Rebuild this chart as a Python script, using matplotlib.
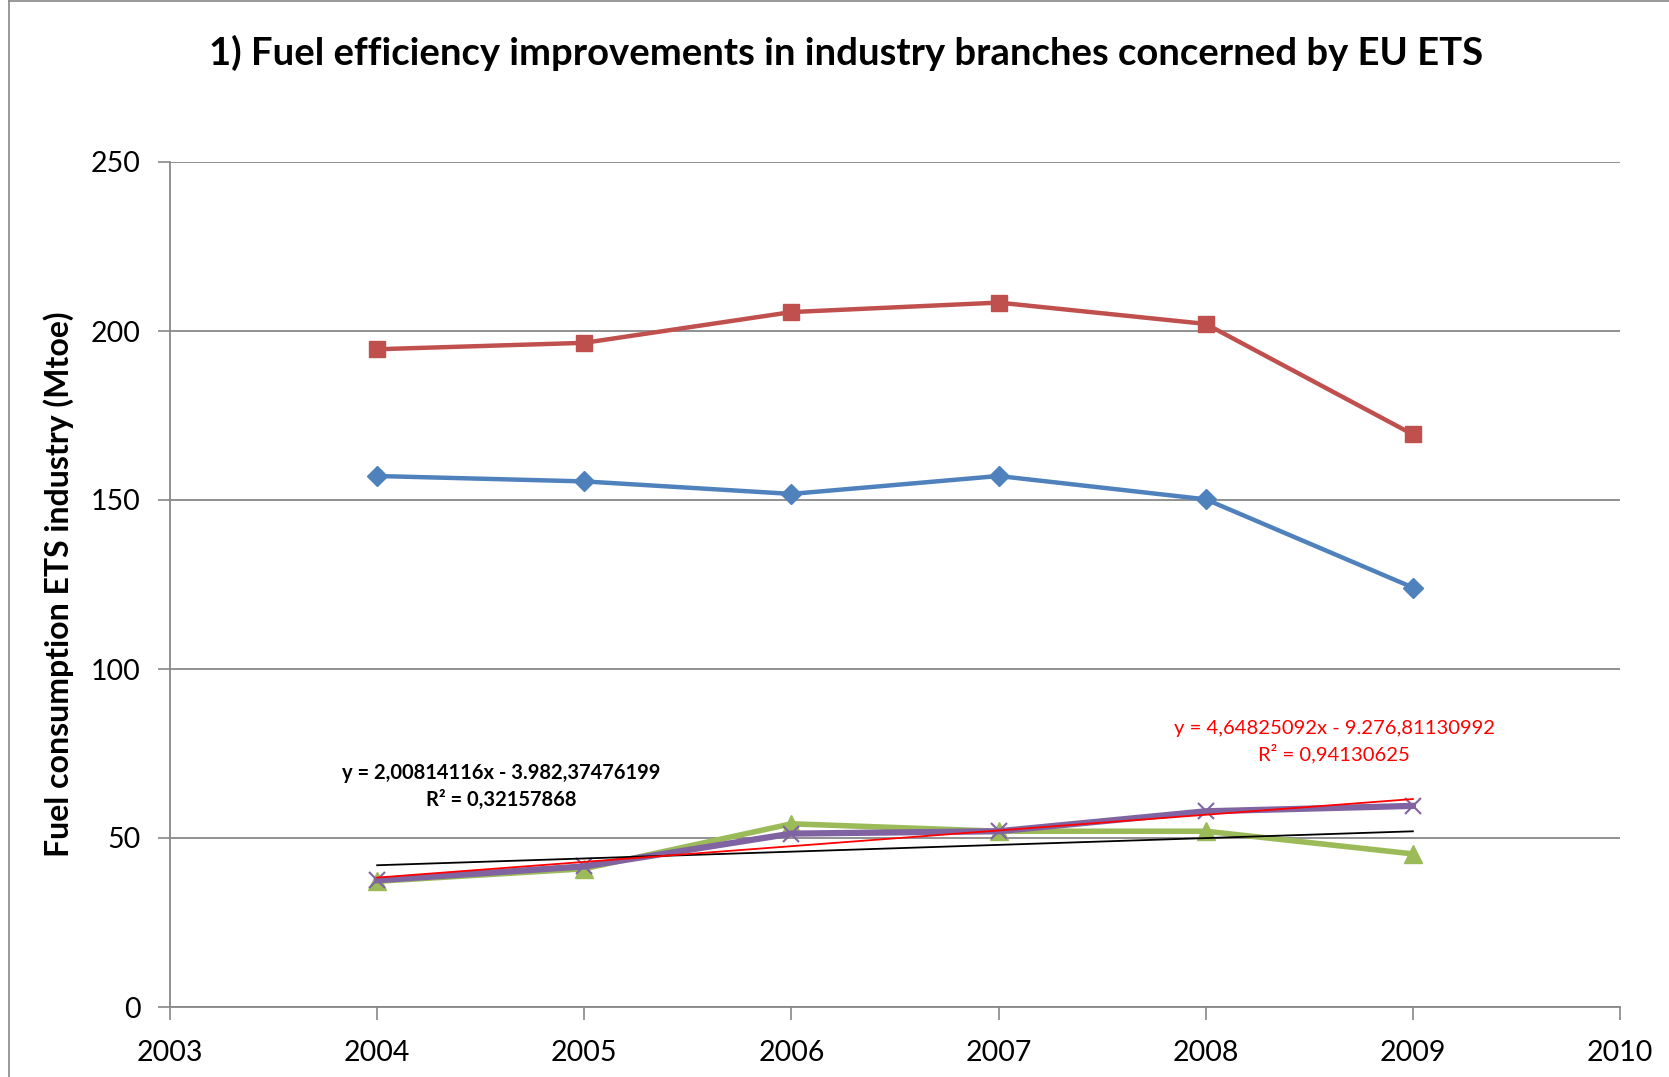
import numpy as np
import matplotlib
matplotlib.use("Agg")
import matplotlib.pyplot as plt
from matplotlib.lines import Line2D

years = [2004, 2005, 2006, 2007, 2008, 2009]
blue_vals = [157.1, 155.5, 151.8, 157.1, 150.2, 124.1]
red_vals = [194.6, 196.5, 205.6, 208.4, 202.1, 169.4]
green_vals = [37.2, 40.9, 54.2, 52.0, 52.0, 45.3]
purple_vals = [37.5, 41.6, 51.3, 52.0, 57.9, 59.5]

# linear trend coefficients (slope, intercept) as printed on the chart
green_trend = (2.00814116, -3982.37476199)
purple_trend = (4.64825092, -9276.81130992)
green_trend_txt = "y = 2,00814116x - 3.982,37476199\nR² = 0,32157868"
purple_trend_txt = "y = 4,64825092x - 9.276,81130992\nR² = 0,94130625"

x_ticks = [2003, 2004, 2005, 2006, 2007, 2008, 2009, 2010]
y_ticks = [0, 50, 100, 150, 200, 250]

plt.rcParams['font.family'] = ['Lato', 'DejaVu Sans']

fig = plt.figure(figsize=(16.69, 10.77), dpi=100)
ax = fig.add_axes([170 / 1669, 1 - 1007 / 1077, 1450 / 1669, 845 / 1077])

ax.plot(years, blue_vals, color='#4F81BD', lw=3.2, marker='D', ms=10,
        mec='#4F81BD', zorder=3)
ax.plot(years, red_vals, color='#C0504D', lw=3.2, marker='s', ms=11,
        mec='#C0504D', zorder=3)
ax.plot(years, green_vals, color='#9BBB59', lw=4, marker='^', ms=13,
        mec='#9BBB59', zorder=3)
ax.plot(years, purple_vals, color='#8064A2', lw=4.5, marker='x', ms=12,
        mew=1.5, mec='#8064A2', zorder=4)

tx = np.array([years[0], years[-1]])
ax.plot(tx, green_trend[0] * tx + green_trend[1], color='black', lw=1.3, zorder=5)
ax.plot(tx, purple_trend[0] * tx + purple_trend[1], color='#FF0000', lw=1.3, zorder=5)

ax.text(2004.6, 65.2, green_trend_txt, ha='center', va='center', fontsize=14.5,
        fontweight='bold', color='black', linespacing=1.4)
ax.text(2008.62, 78.4, purple_trend_txt, ha='center', va='center', fontsize=14.6,
        color='#FF0000', linespacing=1.4)

ax.set_xlim(2003, 2010)
ax.set_ylim(0, 250)
ax.set_xticks(x_ticks)
ax.set_yticks(y_ticks)
ax.tick_params(axis='both', labelsize=20.5, color='#888888', length=9, width=1.2)
ax.tick_params(axis='y', pad=12)
ax.tick_params(axis='x', pad=15)
ax.grid(axis='y', color='#888888', lw=1.3)
ax.set_axisbelow(True)
for s in ['top', 'right']:
    ax.spines[s].set_visible(False)
for s in ['left', 'bottom']:
    ax.spines[s].set_color('#888888')
    ax.spines[s].set_linewidth(1.3)

ax.set_ylabel('Fuel consumption ETS industry (Mtoe)', fontsize=23,
              fontweight='bold')
ax.yaxis.set_label_coords(-0.066, 0.5)

fig.text(0.507, 1 - 53 / 1077, '1) Fuel efficiency improvements in industry branches concerned by EU ETS',
         ha='center', va='center', fontsize=27.5, fontweight='bold')

# chart area frame
fig.add_artist(Line2D([9 / 1669, 9 / 1669], [0, 1 - 1 / 1077], transform=fig.transFigure,
                      color='#888888', lw=1.2))
fig.add_artist(Line2D([9 / 1669, 1], [1 - 1 / 1077, 1 - 1 / 1077], transform=fig.transFigure,
                      color='#888888', lw=1.2))

fig.savefig('out.png', dpi=100)
